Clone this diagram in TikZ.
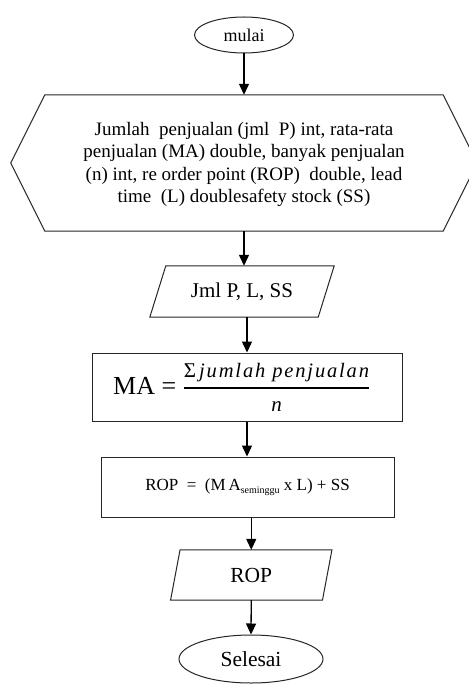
\documentclass[tikz,border=0pt]{standalone}
\usepackage{fontspec}
\setmainfont{Liberation Serif}
\usetikzlibrary{shapes.geometric,arrows.meta,calc}
\tikzset{
  shapeline/.style={draw=black!85, line width=1pt},
  arr/.style={draw=black, line width=1.3pt, -{Triangle[length=11pt,width=10pt]}},
  term/.style={ellipse, shapeline, inner sep=0pt},
  plainbox/.style={rectangle, inner sep=0pt},
}
\begin{document}
\begin{tikzpicture}[x=1pt,y=-1pt]
\fill[white] (0,0) rectangle (468,684);
\useasboundingbox (0,0) rectangle (468,684);
% start
\node[term, minimum width=99pt, minimum height=36pt] (mulai) at (244,35)
  {\fontsize{18}{20}\selectfont mulai};
% hexagon (declarations)
\node[plainbox, minimum width=398pt, minimum height=136pt] (hex) at (244,163) {};
\draw[shapeline] (hex.north west) -- (hex.north east) -- ($(hex.east)+(34,0)$)
  -- (hex.south east) -- (hex.south west) -- ($(hex.west)+(-34,0)$) -- cycle;
\node[align=center, font=\fontsize{19}{22.3}\selectfont] (hextext) at (244,164.5)
  {Jumlah\ \ penjualan (jml\ \ P) int, rata-rata\\
   penjualan (MA) double, banyak penjualan\\
   (n) int, re order point (ROP)\ \ double, lead\\
   time\ \ (L) doublesafety stock (SS)};
% input
\node[plainbox, minimum width=168pt, minimum height=51pt] (in1) at (242,291.5)
  {\fontsize{21}{24}\selectfont Jml P, L, SS};
\draw[shapeline] ($(in1.north west)+(8,0)$) -- ($(in1.north east)+(8,0)$)
  -- ($(in1.south east)+(-8,0)$) -- ($(in1.south west)+(-8,0)$) -- cycle;
% MA process
\node[plainbox, shapeline, minimum width=310pt, minimum height=68pt] (ma) at (247,387) {};
\node[anchor=west, inner sep=0pt] (matext) at (113,387)
  {\fontsize{26}{30}\selectfont MA = $\displaystyle{\mbox{\fontsize{21}{24}\selectfont Σ\kern3pt\fontsize{20.5}{24}\selectfont\itshape\addfontfeatures{LetterSpace=9}jumlah penjualan}\above 1.8pt\mbox{\fontsize{21}{24}\selectfont\itshape n}}$};
% ROP process
\node[plainbox, shapeline, minimum width=293pt, minimum height=60pt] (rop) at (247.5,487)
  {\fontsize{17}{18}\selectfont ROP\ \ =\ \ (M\,A\raisebox{-3pt}{\fontsize{10}{10}\selectfont seminggu} x L) + SS};
% output
\node[plainbox, minimum width=151.5pt, minimum height=50pt] (out) at (251.25,575)
  {\fontsize{21.5}{24}\selectfont ROP};
\draw[shapeline] ($(out.north west)+(4.75,0)$) -- ($(out.north east)+(4.75,0)$)
  -- ($(out.south east)+(-4.75,0)$) -- ($(out.south west)+(-4.75,0)$) -- cycle;
% end
\node[term, minimum width=144pt, minimum height=48pt] (selesai) at (251,659)
  {\fontsize{21.5}{24}\selectfont Selesai};
% connectors
\draw[arr] (mulai.south) -- (hex.north);
\draw[arr] (hex.south) -- (hex.south |- in1.north);
\draw[arr] (ma.north |- in1.south) -- (ma.north);
\draw[arr] (ma.south) -- (ma.south |- rop.north);
\draw[arr] (out.north |- rop.south) -- (out.north);
\draw[arr] (out.south) -- (selesai.north);
\end{tikzpicture}
\end{document}
